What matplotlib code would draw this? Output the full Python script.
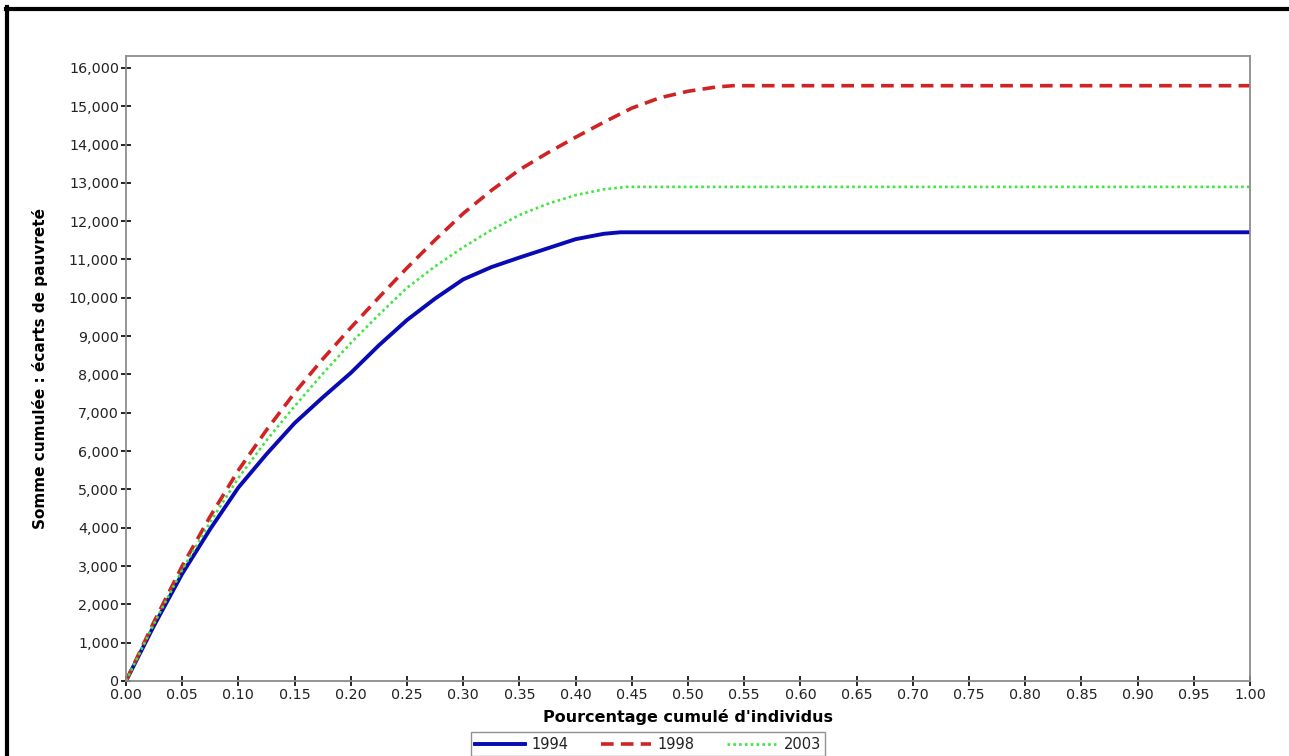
import matplotlib.pyplot as plt
from matplotlib.lines import Line2D
from matplotlib.ticker import FuncFormatter

# cumulated share of individuals (x) and cumulated poverty gaps (y)
x_1994 = [0.0, 0.025, 0.05, 0.075, 0.10, 0.125, 0.15, 0.175, 0.20, 0.225, 0.25,
          0.275, 0.30, 0.325, 0.35, 0.375, 0.40, 0.425, 0.44, 1.0]
y_1994 = [0, 1450, 2800, 3970, 5050, 5920, 6730, 7400, 8040, 8760, 9420,
          9980, 10480, 10800, 11050, 11290, 11530, 11670, 11710, 11710]

x_1998 = [0.0, 0.025, 0.05, 0.075, 0.10, 0.125, 0.15, 0.175, 0.20, 0.225, 0.25,
          0.275, 0.30, 0.325, 0.35, 0.375, 0.40, 0.425, 0.45, 0.475, 0.50,
          0.525, 0.54, 1.0]
y_1998 = [0, 1550, 3000, 4300, 5500, 6550, 7520, 8400, 9220, 10010, 10780,
          11510, 12200, 12800, 13340, 13780, 14190, 14580, 14950, 15220, 15390,
          15500, 15535, 15535]

x_2003 = [0.0, 0.025, 0.05, 0.075, 0.10, 0.125, 0.15, 0.175, 0.20, 0.225, 0.25,
          0.275, 0.30, 0.325, 0.35, 0.375, 0.40, 0.425, 0.445, 1.0]
y_2003 = [0, 1500, 2900, 4150, 5300, 6280, 7170, 8020, 8820, 9560, 10260,
          10820, 11320, 11770, 12160, 12450, 12680, 12830, 12895, 12895]

x_ticks = [i * 0.05 for i in range(21)]
y_ticks = list(range(0, 16001, 1000))

fig = plt.figure(figsize=(12.89, 7.56), dpi=100)
ax = fig.add_axes([126 / 1289, 1 - 681 / 756, 1124 / 1289, 625 / 756])

ax.plot(x_1994, y_1994, color='#0a0ab4', lw=2.8, label='1994')
ax.plot(x_1998, y_1998, color='#d02424', lw=2.6, dashes=(3.5, 2), label='1998')
ax.plot(x_2003, y_2003, color='#3ee63e', lw=1.9, dashes=(1, 1.2), label='2003')

ax.set_xlim(0, 1)
ax.set_ylim(0, 16310)
ax.set_xticks(x_ticks)
ax.set_yticks(y_ticks)
ax.xaxis.set_major_formatter(FuncFormatter(lambda v, p: f'{v:.2f}'))
ax.yaxis.set_major_formatter(FuncFormatter(lambda v, p: f'{int(v):,}'))
ax.tick_params(direction='inout', length=7, width=1.2, color='black',
               labelsize=10.3, pad=1.5, labelcolor='#222222')
for s in ax.spines.values():
    s.set_color('#8c8c8c')
    s.set_linewidth(1.3)

ax.set_xlabel("Pourcentage cumulé d'individus", fontsize=11.5,
              fontweight='bold', labelpad=5)
ax.set_ylabel('Somme cumulée : écarts de pauvreté', fontsize=11,
              fontweight='bold', labelpad=15)

leg = fig.legend(loc='upper center', bbox_to_anchor=(648 / 1289, 1 - 725 / 756),
                 ncol=3, frameon=True, fancybox=False,
                 handlelength=3.4, columnspacing=2.2, handletextpad=0.5,
                 borderpad=0.3, prop={'size': 10.5})
leg.get_frame().set_edgecolor('#777777')
leg.get_frame().set_linewidth(1.0)
for t in leg.get_texts():
    t.set_color('#222222')

# thick black border, only top and left are visible in the screenshot
fig.add_artist(Line2D([6 / 1289, 1], [1 - 8.5 / 756, 1 - 8.5 / 756],
                      color='black', lw=3, transform=fig.transFigure))
fig.add_artist(Line2D([7 / 1289, 7 / 1289], [0, 1 - 7 / 756],
                      color='black', lw=3, transform=fig.transFigure))

fig.savefig('out.png', dpi=100)
